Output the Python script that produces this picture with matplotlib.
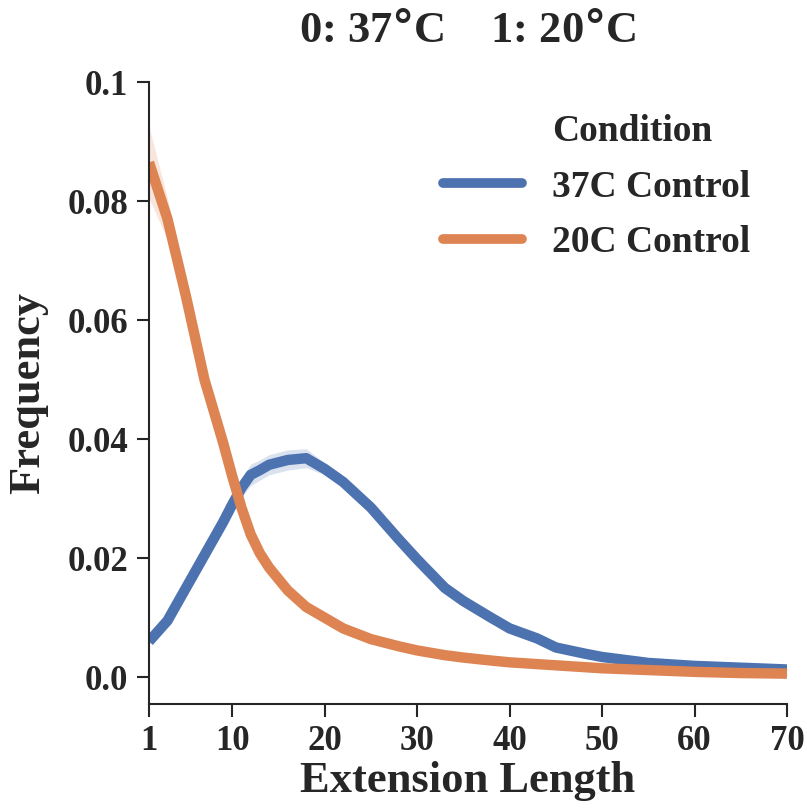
import matplotlib
matplotlib.use("Agg")
import matplotlib.pyplot as plt
import numpy as np
from matplotlib.lines import Line2D

# extension lengths sampled along the curves
ext_len = [1, 3, 5, 7, 9, 10, 11, 12, 13, 14, 16, 18, 20, 22, 25, 28, 30,
           33, 35, 38, 40, 43, 45, 48, 50, 55, 60, 65, 70]

freq_37c = [0.0060, 0.0095, 0.0150, 0.0205, 0.0260, 0.0290, 0.0318, 0.0340,
            0.0348, 0.0357, 0.0365, 0.0368, 0.0350, 0.0328, 0.0285, 0.0232,
            0.0198, 0.0150, 0.0128, 0.0100, 0.0082, 0.0065, 0.0050, 0.0040,
            0.0034, 0.0024, 0.0019, 0.0016, 0.0013]
err_37c = [0.0005, 0.0006, 0.0008, 0.0010, 0.0012, 0.0013, 0.0016, 0.0018,
           0.0017, 0.0017, 0.0017, 0.0016, 0.0010, 0.0008, 0.0008, 0.0009,
           0.0009, 0.0008, 0.0008, 0.0007, 0.0006, 0.0006, 0.0005, 0.0004,
           0.0004, 0.0003, 0.0003, 0.0002, 0.0002]

freq_20c = [0.0865, 0.0770, 0.0640, 0.0500, 0.0395, 0.0338, 0.0285, 0.0240,
            0.0208, 0.0184, 0.0146, 0.0118, 0.0100, 0.0082, 0.0064, 0.0052,
            0.0045, 0.0037, 0.0033, 0.0028, 0.0025, 0.0022, 0.0020, 0.0017,
            0.0015, 0.0012, 0.0009, 0.0007, 0.0006]
err_20c = [0.0060, 0.0035, 0.0015, 0.0010, 0.0008, 0.0008, 0.0008, 0.0007,
           0.0007, 0.0006, 0.0006, 0.0005, 0.0005, 0.0004, 0.0004, 0.0003,
           0.0003, 0.0003, 0.0003, 0.0003, 0.0003, 0.0002, 0.0002, 0.0002,
           0.0002, 0.0002, 0.0002, 0.0002, 0.0002]

x_ticks = [1, 10, 20, 30, 40, 50, 60, 70]
y_ticks = [0.0, 0.02, 0.04, 0.06, 0.08, 0.1]
y_tick_labels = ["0.0", "0.02", "0.04", "0.06", "0.08", "0.1"]

blue = "#4C72B0"
orange = "#DD8452"
dark = "#262626"

plt.rcParams['font.family'] = ['Liberation Serif', 'DejaVu Serif']
plt.rcParams['font.weight'] = 'bold'
plt.rcParams['text.color'] = dark
plt.rcParams['axes.labelcolor'] = dark
plt.rcParams['xtick.color'] = dark
plt.rcParams['ytick.color'] = dark

fig = plt.figure(figsize=(8.07, 8.09), dpi=100)
ax = fig.add_axes([0.1846, 0.1298, 0.7906, 0.7688])

x = np.array(ext_len)
for y, e, c in [(freq_37c, err_37c, blue), (freq_20c, err_20c, orange)]:
    y = np.array(y)
    e = np.array(e)
    ax.fill_between(x, y - e, y + e, color=c, alpha=0.2, lw=0)
    ax.plot(x, y, color=c, lw=7.5, solid_capstyle='butt')

ax.set_xlim(1, 70)
ax.set_ylim(-0.0045, 0.1)
ax.set_xticks(x_ticks)
ax.set_yticks(y_ticks)
ax.set_yticklabels(y_tick_labels)
ax.tick_params(labelsize=25, length=9, width=1.5, pad=6)
for s in ['top', 'right']:
    ax.spines[s].set_visible(False)
for s in ['left', 'bottom']:
    ax.spines[s].set_linewidth(1.5)
    ax.spines[s].set_color(dark)

ax.set_xlabel("Extension Length", fontsize=32, fontweight='bold', labelpad=2)
ax.set_ylabel("Frequency", fontsize=32, fontweight='bold', labelpad=14)
ax.set_title("0: 37$\\degree$C    1: 20$\\degree$C", fontsize=32,
             fontweight='bold', pad=29)

handles = [Line2D([], [], color='none'),
           Line2D([], [], color=blue, lw=7, solid_capstyle='round'),
           Line2D([], [], color=orange, lw=7, solid_capstyle='round')]
labels = ["Condition", "37C Control", "20C Control"]
ax.legend(handles, labels, frameon=False, fontsize=27, loc='upper right',
          bbox_to_anchor=(0.995, 1.003), handlelength=2.1, handletextpad=0.8,
          labelspacing=0.55)

plt.savefig("out.png", dpi=100)
